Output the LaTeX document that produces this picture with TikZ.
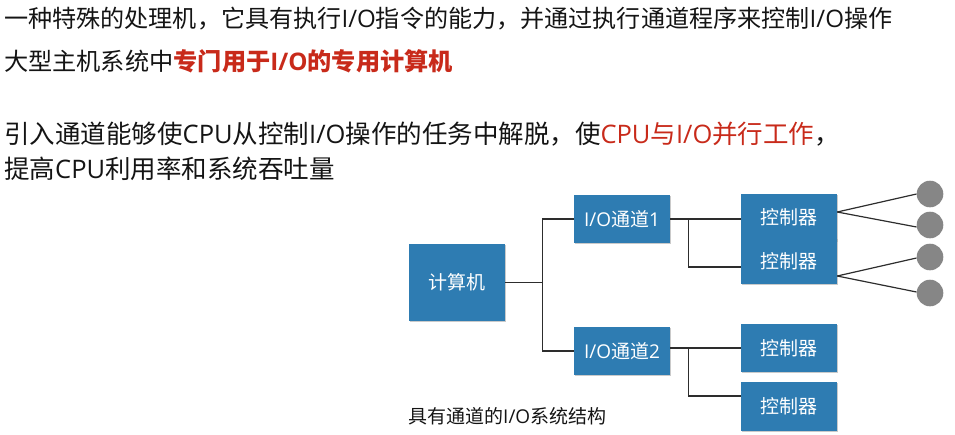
\documentclass[tikz,border=0pt]{standalone}
\usepackage{fontspec}
\setmainfont{Noto Sans CJK SC}
\newfontfamily\latf{Open Sans}
\newcommand{\lat}[1]{{\latf #1}}
\usetikzlibrary{shadows}
\definecolor{boxblue}{RGB}{46,124,178}
\definecolor{redtxt}{RGB}{200,42,26}
\definecolor{dotgray}{RGB}{134,134,134}
\definecolor{linegray}{RGB}{45,45,45}
\definecolor{txtblack}{RGB}{20,20,20}
\tikzset{
  bluebox/.style={draw=none, fill=boxblue, text=white, inner sep=0pt,
    font=\fontsize{19}{21}\selectfont,
    drop shadow={shadow xshift=0.8pt, shadow yshift=-1.2pt, fill=black!35, opacity=.6}},
  dot/.style={circle, fill=dotgray, draw=none, minimum size=26.6pt, inner sep=0pt},
  conn/.style={draw=linegray, line width=1.2pt},
  toptext/.style={anchor=base west, inner sep=0pt, text=txtblack},
}
\begin{document}
\begin{tikzpicture}[x=1pt,y=-1pt]
\useasboundingbox (0,0) rectangle (955,434);
% top texts
\node[toptext, font=\fontsize{24.1}{26}\selectfont] (t1) at (4,27) {一种特殊的处理机，它具有执行\lat{I/O}指令的能力，并通过执行通道程序来控制\lat{I/O}操作};
\node[toptext, font=\fontsize{24.2}{26}\selectfont] (t2) at (4,70) {大型主机系统中\textcolor{redtxt}{\bfseries 专门用于\lat{I/O}的专用计算机}};
\node[toptext, font=\fontsize{25.5}{27}\selectfont] (t3) at (4,143) {引入通道能够使\lat{CPU}从控制\lat{I/O}操作的任务中解脱，使\textcolor{redtxt}{\lat{CPU}与\lat{I/O}并行工作}，};
\node[toptext, font=\fontsize{25.5}{27}\selectfont] (t4) at (4,178) {提高\lat{CPU}利用率和系统吞吐量};
% boxes
\node[bluebox, minimum width=96pt, minimum height=77pt] (comp) at (457,282.5) {计算机};
\node[bluebox, minimum width=96pt, minimum height=48pt] (io1) at (622,219) {\lat{I/O}通道\lat{1}};
\node[bluebox, minimum width=96pt, minimum height=48pt] (io2) at (622,351) {\lat{I/O}通道\lat{2}};
\node[bluebox, minimum width=96pt, minimum height=47pt] (c1) at (789,217.5) {控制器};
\node[bluebox, minimum width=96pt, minimum height=46pt] (c2) at (789,261) {控制器};
\node[bluebox, minimum width=96pt, minimum height=48pt] (c3) at (789,348) {控制器};
\node[bluebox, minimum width=96pt, minimum height=49pt] (c4) at (789,406.5) {控制器};
% devices
\node[dot] (d1) at (930,194) {};
\node[dot] (d2) at (930,225) {};
\node[dot] (d3) at (930,257) {};
\node[dot] (d4) at (930,293) {};
% connectors
\draw[conn] (comp.east) -- ++(37,0) |- (io1.west);
\draw[conn] (comp.east) -- ++(37,0) |- (io2.west);
\draw[conn] (io1.east) -- (io1.east -| c1.west);
\draw[conn] (io1.east) -- ++(18,0) |- ([yshift=-6pt]c2.west);
\draw[conn] (c3.west -| io2.east) -- (c3.west);
\draw[conn] (c3.west -| io2.east) -- ++(18,0) |- ([yshift=10.5pt]c4.west);
\draw[conn] ([yshift=5.5pt]c1.east) -- (d1.west);
\draw[conn] ([yshift=5.5pt]c1.east) -- ([yshift=-2pt]d2.west);
\draw[conn] ([yshift=-15pt]c2.east) -- ([yshift=-1pt]d3.west);
\draw[conn] ([yshift=-15pt]c2.east) -- ([yshift=1pt]d4.west);
% caption
\node[anchor=base west, inner sep=0pt, text=txtblack, font=\fontsize{19}{21}\selectfont] (cap) at (408,423) {具有通道的\lat{I/O}系统结构};
\end{tikzpicture}
\end{document}
